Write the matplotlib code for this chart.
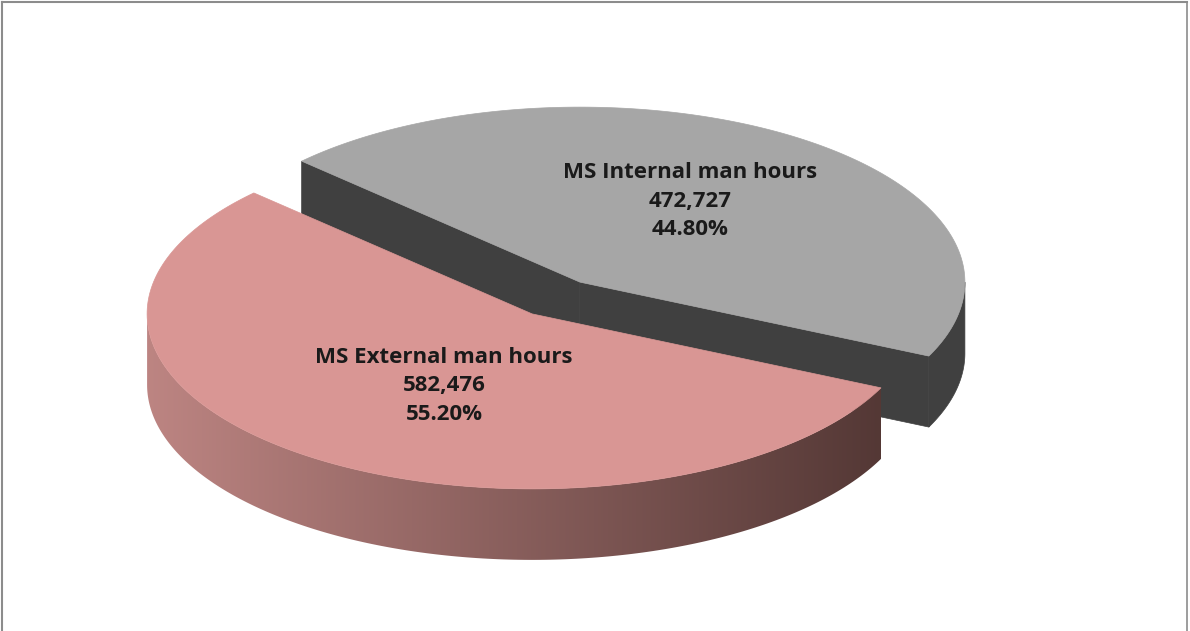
import numpy as np
import matplotlib
matplotlib.use("Agg")
import matplotlib.pyplot as plt
from matplotlib.patches import Polygon
from matplotlib.lines import Line2D

# ---- data ----
categories = ["MS Internal man hours", "MS External man hours"]
values = [472727, 582476]
top_colors = ["#A6A6A6", "#D99694"]
side_colors = ["#404040", None]          # None -> gradient side
gradient_ends = [(0.74, 0.52, 0.51), (0.33, 0.22, 0.21)]

# ---- layout of the 3D pie (pixel space) ----
W, H = 1190, 631
cx, cy = 556, 298          # pie centre
ra, rb = 385, 175          # ellipse semi-axes
depth = 71                 # thickness of the disc
explode = 0.11             # explosion of each slice (fraction of radius)
start_deg = -25.0          # first slice starts here, counter-clockwise

fig = plt.figure(figsize=(W / 100, H / 100), dpi=100)
ax = fig.add_axes([0, 0, 1, 1])
ax.set_xlim(0, W)
ax.set_ylim(H, 0)
ax.axis("off")

total = float(sum(values))
fracs = [v / total for v in values]


def slice_geom(i):
    a0 = start_deg + 360 * sum(fracs[:i])
    a1 = a0 + 360 * fracs[i]
    mid = np.radians((a0 + a1) / 2)
    ox = ra * explode * np.cos(mid)
    oy = -rb * explode * np.sin(mid)
    return a0, a1, ox, oy


def pt(theta_deg, ox, oy, r=1.0, dz=0.0):
    t = np.radians(theta_deg)
    return (cx + ox + ra * r * np.cos(t), cy + oy - rb * r * np.sin(t) + dz)


def arc(t0, t1, ox, oy, dz=0.0, n=200):
    ts = np.linspace(t0, t1, n)
    return [pt(t, ox, oy, 1.0, dz) for t in ts]


def front_ranges(a0, a1):
    """Parts of the arc [a0, a1] whose rim faces the viewer (sin < 0)."""
    out = []
    for k in range(-1, 3):
        lo, hi = 180 + 360 * k, 360 + 360 * k
        s, e = max(a0, lo), min(a1, hi)
        if e > s:
            out.append((s, e))
    return out


def draw_slice(i, z):
    a0, a1, ox, oy = slice_geom(i)
    apex = (cx + ox, cy + oy)
    apex_b = (apex[0], apex[1] + depth)
    # radial cut faces that face the viewer
    for ang, sign in ((a0, -1), (a1, 1)):
        normal = np.radians(ang + sign * 90)
        if np.sin(normal) < 0:
            c_top = pt(ang, ox, oy)
            c_bot = pt(ang, ox, oy, dz=depth)
            col = side_colors[i] if side_colors[i] else gradient_ends[1]
            ax.add_patch(Polygon([apex, c_top, c_bot, apex_b], closed=True,
                                 facecolor=col, edgecolor=col, lw=0.5, zorder=z))
    # curved rim
    for s, e in front_ranges(a0, a1):
        top = arc(s, e, ox, oy)
        bot = arc(e, s, ox, oy, dz=depth)
        poly = Polygon(top + bot, closed=True, zorder=z + 0.1)
        if side_colors[i]:
            poly.set_facecolor(side_colors[i])
            poly.set_edgecolor(side_colors[i])
            poly.set_linewidth(0.5)
            ax.add_patch(poly)
        else:
            poly.set_facecolor("none")
            poly.set_edgecolor("none")
            ax.add_patch(poly)
            xs = [p[0] for p in top + bot]
            ys = [p[1] for p in top + bot]
            x0, x1 = min(xs), max(xs)
            y0, y1 = min(ys), max(ys)
            g = np.linspace(0, 1, 256)
            c0 = np.array(gradient_ends[0])
            c1 = np.array(gradient_ends[1])
            img = (c0[None, :] * (1 - g[:, None]) + c1[None, :] * g[:, None])[None, :, :]
            im = ax.imshow(img, extent=(x0, x1, y1, y0), aspect="auto",
                           interpolation="bilinear", zorder=z + 0.1)
            im.set_clip_path(poly)
    # top surface
    top = [apex] + arc(a0, a1, ox, oy)
    ax.add_patch(Polygon(top, closed=True, facecolor=top_colors[i],
                         edgecolor=top_colors[i], lw=0.5, zorder=z + 0.2))


# back slice first, front slice on top
draw_slice(0, 2)
draw_slice(1, 3)

# data labels
label_pos = [(690, 201), (444, 386)]
for i, (lx, ly) in enumerate(label_pos):
    txt = f"{categories[i]}\n{values[i]:,}\n{fracs[i] * 100:.2f}%"
    ax.text(lx, ly, txt, ha="center", va="center", fontsize=16,
            fontweight="bold", family="Open Sans", color="#1A1A1A",
            linespacing=1.45, zorder=10)

# chart-area frame (open at the bottom)
frame = "#8C8C8C"
fig.add_artist(Line2D([2 / W, 2 / W], [0, 1 - 1.5 / H], transform=fig.transFigure, color=frame, lw=1.5))
fig.add_artist(Line2D([1187 / W, 1187 / W], [0, 1 - 1.5 / H], transform=fig.transFigure, color=frame, lw=1.2))
fig.add_artist(Line2D([2 / W, 1187 / W], [1 - 1.5 / H, 1 - 1.5 / H], transform=fig.transFigure, color=frame, lw=1.5))

fig.savefig("out.png", dpi=100, facecolor="white")
